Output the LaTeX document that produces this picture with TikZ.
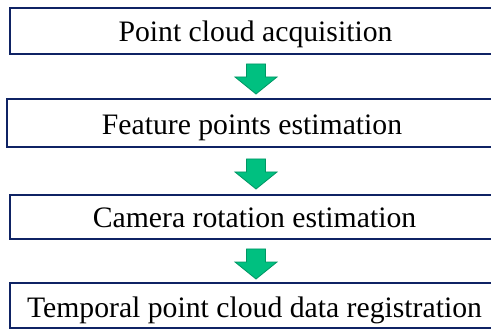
\documentclass[tikz,border=0pt]{standalone}
\usepackage{fontspec}
\setmainfont{Liberation Serif}
\definecolor{boxline}{RGB}{15,35,100}
\definecolor{arrowfill}{RGB}{0,192,128}
\definecolor{arrowline}{RGB}{0,150,100}
\tikzset{
  flowbox/.style={rectangle, minimum width=490pt, inner sep=0pt, anchor=north west},
  boxedge/.style={draw=boxline, line width=2pt, line join=miter},
  flowtext/.style={inner sep=0pt, anchor=base, font=\fontsize{29.7}{32}\selectfont},
  greenarrow/.style={fill=arrowfill, draw=arrowline, line width=0.8pt, line join=miter},
  pics/blockarrow/.style={code={
    \path[greenarrow] (-9.5,0) -- (9.5,0) -- (9.5,13) -- (21,13) -- (0,30) -- (-21,13) -- (-9.5,13) -- cycle;
  }}
}
\begin{document}
\begin{tikzpicture}[x=1pt,y=-1pt]
\useasboundingbox (0,0) rectangle (491,329);
\clip (0,0) rectangle (491,329);
\node[flowbox, minimum height=46pt] (b1) at (10,8) {};
\node[flowbox, minimum height=48pt] (b2) at (7,99) {};
\node[flowbox, minimum height=44pt] (b3) at (10,195) {};
\node[flowbox, minimum height=45pt] (b4) at (10,283) {};
\foreach \b in {b1,b2,b3,b4}
  \draw[boxedge] (\b.north east) -- (\b.north west) -- (\b.south west) -- (\b.south east);
\node[flowtext] (t1) at (255.5,42) {Point cloud acquisition};
\node[flowtext] (t2) at (252,135) {Feature points estimation};
\node[flowtext] (t3) at (254.5,228) {Camera rotation estimation};
\node[flowtext] (t4) at (254.5,317) {Temporal point cloud data registration};
\coordinate (a1) at (256,64);
\coordinate (a2) at (256,159);
\coordinate (a3) at (256,249);
\pic at (a1) {blockarrow};
\pic at (a2) {blockarrow};
\pic at (a3) {blockarrow};
\end{tikzpicture}
\end{document}
